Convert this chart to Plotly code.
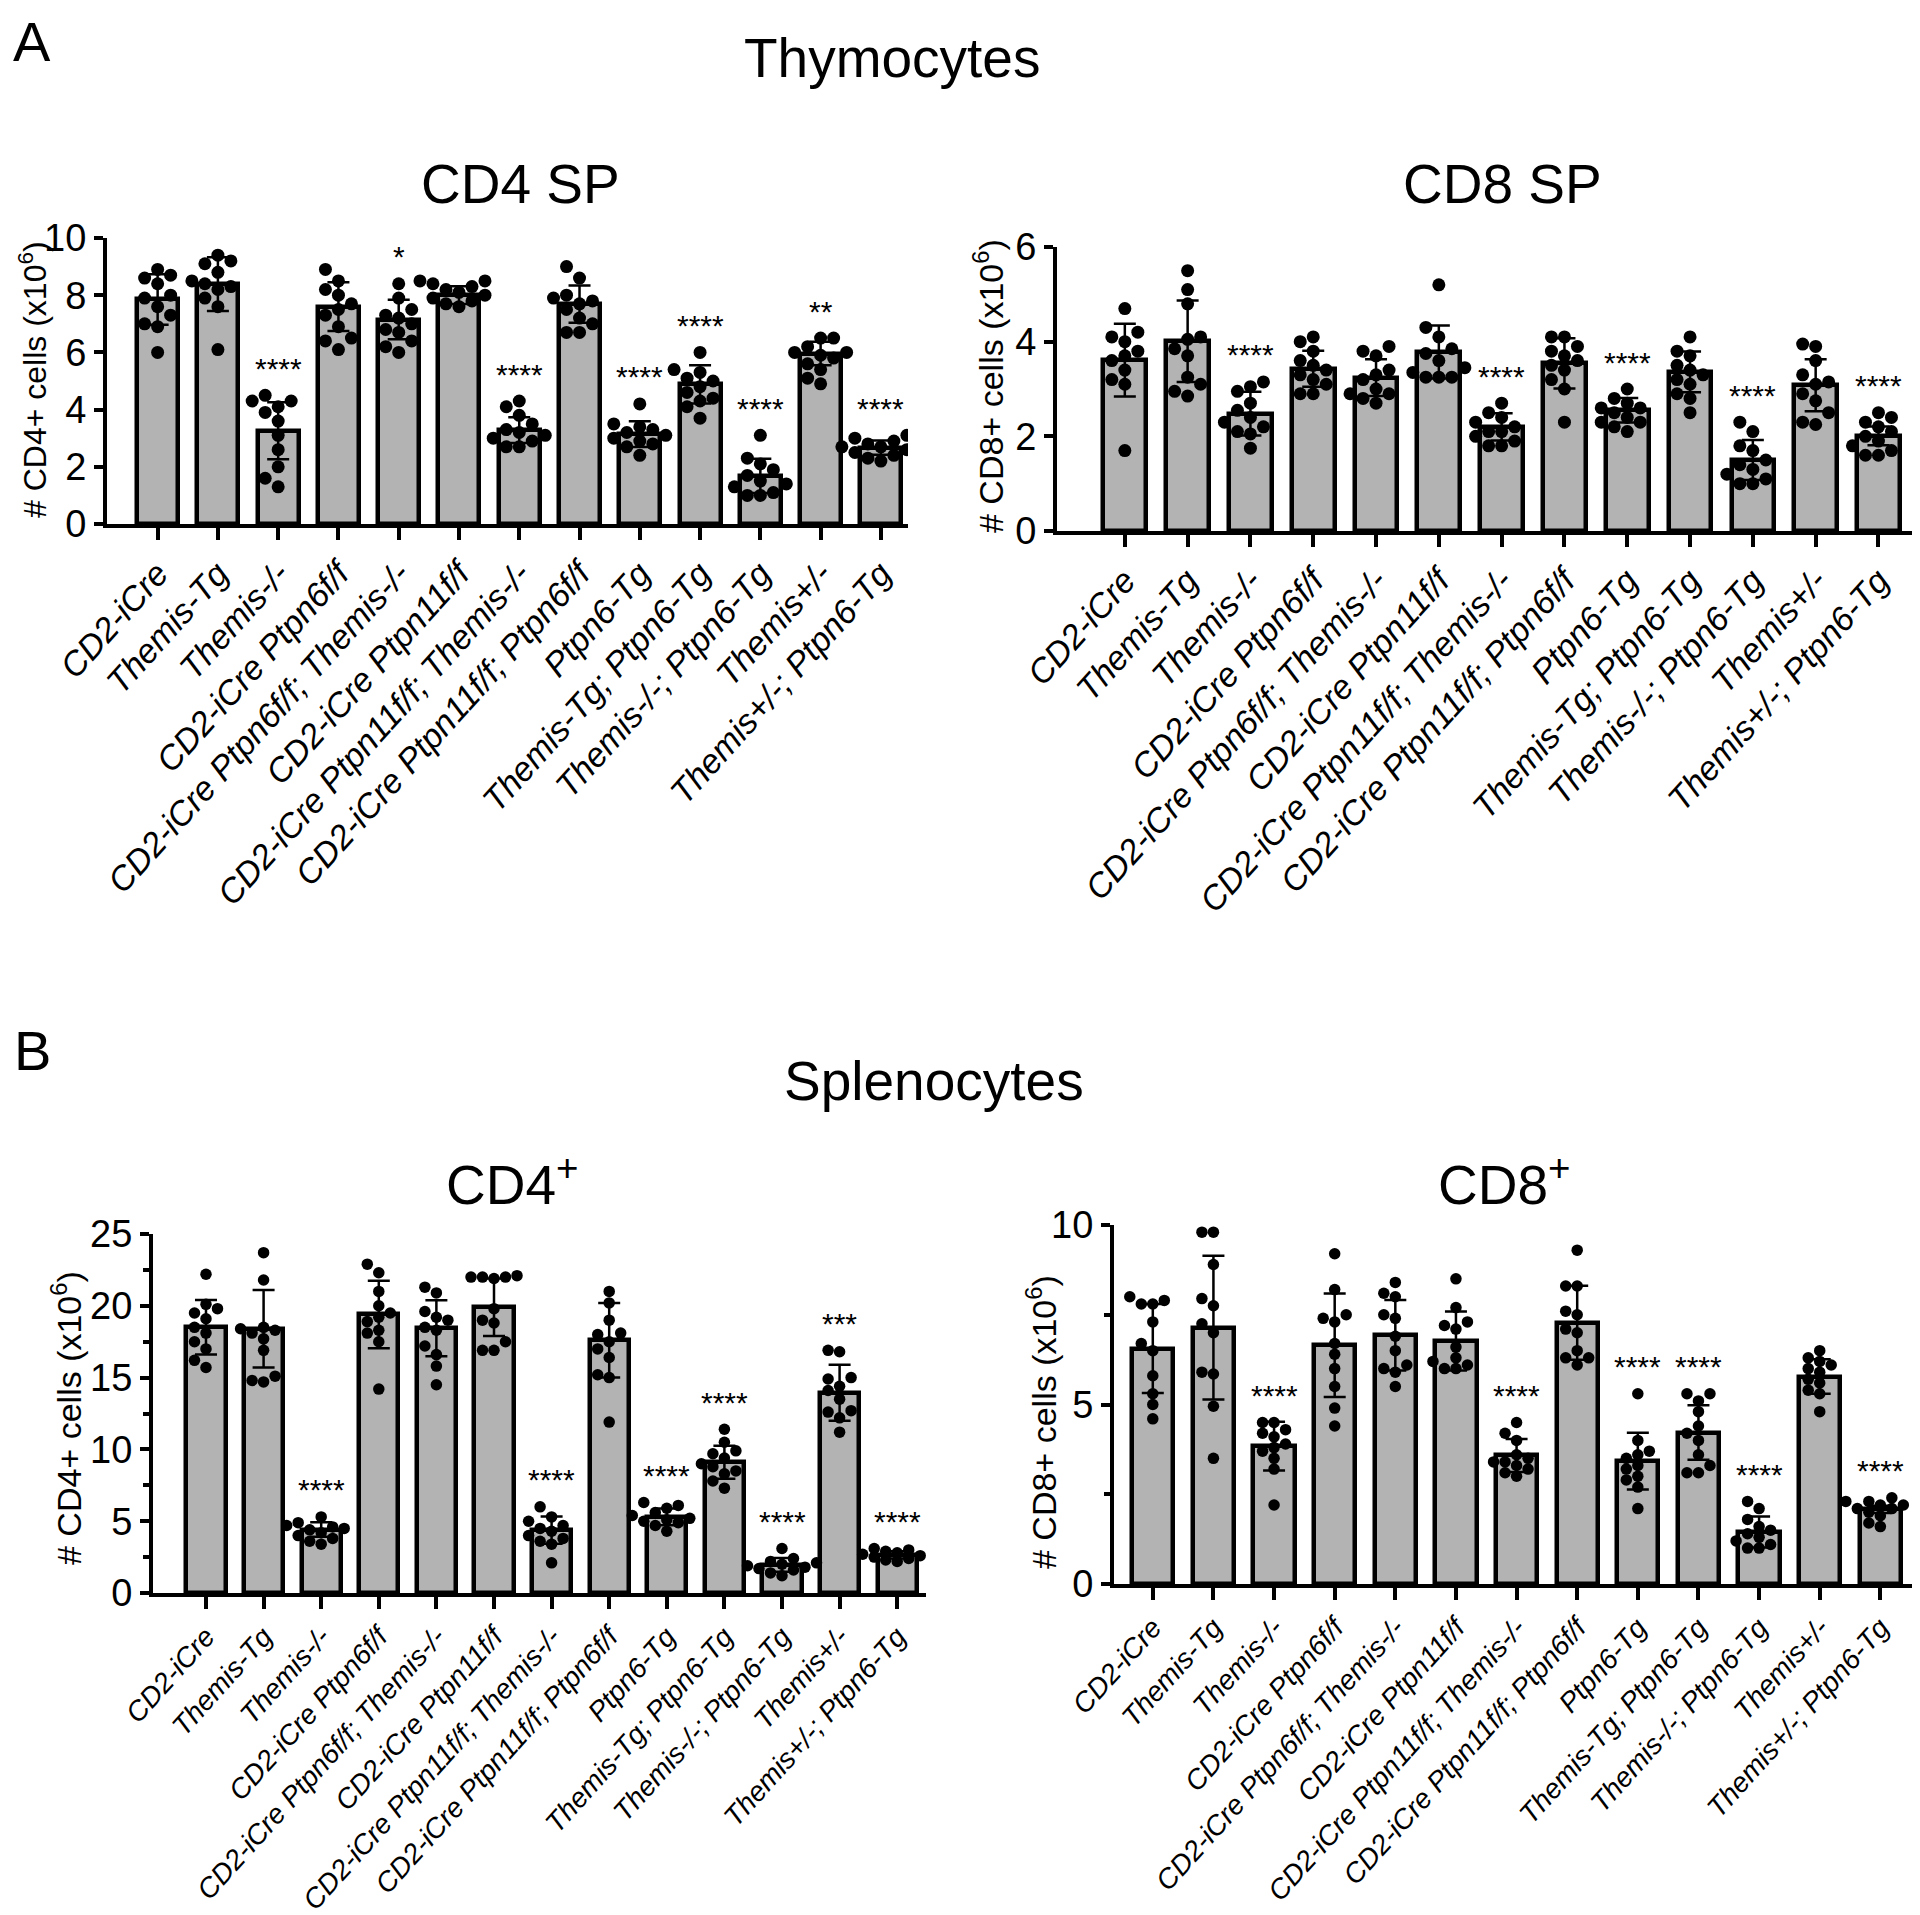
import plotly.graph_objects as go

# -------------------------
# 1) Data (read off the figure)
# -------------------------
groups = [
    "CD2-iCre", "Themis-Tg", "Themis-/-", "CD2-iCre Ptpn6f/f",
    "CD2-iCre Ptpn6f/f; Themis-/-", "CD2-iCre Ptpn11f/f",
    "CD2-iCre Ptpn11f/f; Themis-/-", "CD2-iCre Ptpn11f/f; Ptpn6f/f",
    "Ptpn6-Tg", "Themis-Tg; Ptpn6-Tg", "Themis-/-; Ptpn6-Tg",
    "Themis+/-", "Themis+/-; Ptpn6-Tg",
]

# Thymocytes, CD4 SP
thy_cd4_mean = [7.85, 8.39, 3.26, 7.60, 7.15, 8.00, 3.28, 7.69, 3.14, 4.88, 1.68, 5.96, 2.67]
thy_cd4_sd = [0.88, 0.94, 1.00, 0.85, 0.69, 0.31, 0.45, 0.65, 0.45, 0.67, 0.60, 0.41, 0.25]
thy_cd4_pts = [
    [8.9, 8.7, 8.6, 8.4, 8.0, 7.9, 7.6, 7.3, 7.0, 6.9, 6.0],
    [9.4, 9.2, 9.1, 8.8, 8.5, 8.4, 8.3, 8.2, 7.9, 7.6, 6.1],
    [4.5, 4.3, 4.3, 4.1, 3.9, 3.6, 3.1, 2.6, 2.0, 1.6, 1.3],
    [8.9, 8.5, 8.2, 8.0, 7.7, 7.5, 7.3, 6.9, 6.5, 6.4, 6.1],
    [8.4, 7.9, 7.5, 7.3, 7.2, 7.0, 6.8, 6.7, 6.4, 6.2, 6.0],
    [8.5, 8.5, 8.4, 8.3, 8.2, 8.1, 8.0, 7.9, 7.8, 7.7, 7.6],
    [4.3, 4.1, 3.8, 3.5, 3.3, 3.2, 3.1, 3.0, 2.9, 2.7, 2.7],
    [9.0, 8.6, 8.0, 7.9, 7.8, 7.7, 7.5, 7.2, 7.0, 6.7, 6.7],
    [4.2, 3.5, 3.4, 3.3, 3.2, 3.1, 3.0, 2.9, 2.8, 2.7, 2.4],
    [6.0, 5.4, 5.3, 5.1, 5.0, 4.8, 4.6, 4.4, 4.3, 4.1, 3.7],
    [3.1, 2.3, 2.1, 1.9, 1.7, 1.5, 1.4, 1.3, 1.1, 1.0, 1.0],
    [6.5, 6.5, 6.2, 6.0, 6.0, 5.9, 5.8, 5.6, 5.4, 5.1, 4.9],
    [3.1, 3.0, 2.9, 2.8, 2.7, 2.7, 2.6, 2.5, 2.4, 2.3, 2.2],
]
thy_cd4_stars = ["", "", "****", "", "*", "", "****", "", "****", "****", "****", "**", "****"]

# Thymocytes, CD8 SP
thy_cd8_mean = [3.61, 4.01, 2.48, 3.43, 3.24, 3.78, 2.20, 3.54, 2.55, 3.36, 1.50, 3.08, 2.01]
thy_cd8_sd = [0.77, 0.86, 0.46, 0.38, 0.39, 0.56, 0.29, 0.53, 0.26, 0.43, 0.42, 0.55, 0.20]
thy_cd8_pts = [
    [4.7, 4.2, 4.1, 4.0, 3.8, 3.7, 3.6, 3.4, 3.2, 3.1, 1.7],
    [5.5, 5.1, 4.8, 4.1, 4.05, 3.85, 3.7, 3.25, 3.1, 2.95, 2.85],
    [3.15, 3.05, 2.95, 2.7, 2.55, 2.4, 2.3, 2.2, 2.1, 2.05, 1.75],
    [4.1, 4.0, 3.8, 3.6, 3.5, 3.4, 3.3, 3.2, 3.1, 2.9, 2.9],
    [3.9, 3.8, 3.7, 3.4, 3.3, 3.2, 3.0, 2.9, 2.9, 2.8, 2.7],
    [5.2, 4.3, 4.1, 3.85, 3.75, 3.6, 3.45, 3.35, 3.25, 3.25, 3.25],
    [2.7, 2.5, 2.4, 2.3, 2.2, 2.1, 2.1, 2.0, 1.9, 1.8, 1.8],
    [4.1, 4.1, 3.9, 3.8, 3.7, 3.6, 3.5, 3.4, 3.2, 3.0, 2.3],
    [3.0, 2.8, 2.7, 2.6, 2.6, 2.5, 2.4, 2.3, 2.3, 2.2, 2.1],
    [4.1, 3.8, 3.7, 3.5, 3.4, 3.3, 3.2, 3.1, 2.9, 2.8, 2.5],
    [2.3, 2.1, 1.8, 1.7, 1.5, 1.4, 1.3, 1.2, 1.1, 1.0, 1.0],
    [3.95, 3.9, 3.6, 3.3, 3.15, 3.1, 2.9, 2.75, 2.5, 2.3, 2.25],
    [2.5, 2.4, 2.3, 2.2, 2.1, 2.0, 1.9, 1.8, 1.7, 1.6, 1.6],
]
thy_cd8_stars = ["", "", "****", "", "", "", "****", "", "****", "", "****", "", "****"]

# Splenocytes, CD4+
spl_cd4_mean = [18.5, 18.4, 4.42, 19.4, 18.43, 19.9, 4.38, 17.6, 5.3, 9.1, 1.96, 13.94, 2.65]
spl_cd4_sd = [1.9, 2.7, 0.5, 2.35, 1.95, 2.0, 0.95, 2.6, 0.58, 1.15, 0.48, 1.95, 0.25]
spl_cd4_pts = [
    [22.2, 20.1, 19.8, 19.5, 19.1, 18.5, 18.1, 17.5, 17.0, 16.2, 15.7],
    [23.7, 21.8, 18.5, 18.4, 18.3, 18.1, 17.7, 16.9, 15.1, 14.8, 14.7],
    [5.3, 4.9, 4.7, 4.6, 4.5, 4.4, 4.2, 4.0, 3.8, 3.6, 3.4],
    [22.9, 22.3, 21.0, 20.0, 19.5, 19.2, 18.9, 18.3, 18.1, 17.5, 14.2],
    [21.3, 20.9, 19.6, 19.2, 19.0, 18.5, 18.3, 17.2, 16.6, 15.8, 14.5],
    [22.1, 22.0, 22.0, 22.0, 21.9, 19.8, 19.0, 18.8, 17.5, 16.9, 16.9],
    [6.0, 5.3, 5.0, 4.7, 4.5, 4.3, 4.0, 3.8, 3.6, 3.4, 2.1],
    [21.0, 20.2, 19.0, 18.1, 18.0, 17.5, 17.0, 16.4, 15.2, 15.0, 11.9],
    [6.3, 6.1, 5.9, 5.6, 5.4, 5.2, 5.1, 5.0, 4.9, 4.7, 4.3],
    [11.4, 10.5, 9.9, 9.7, 9.4, 9.0, 8.8, 8.5, 8.3, 7.8, 7.3],
    [3.1, 2.4, 2.2, 2.1, 2.0, 1.9, 1.8, 1.7, 1.6, 1.4, 1.2],
    [16.9, 16.8, 15.0, 14.9, 14.4, 14.1, 13.5, 12.7, 12.6, 12.2, 11.2],
    [3.1, 3.0, 2.9, 2.8, 2.8, 2.7, 2.6, 2.5, 2.4, 2.3, 2.2],
]
spl_cd4_stars = ["", "", "****", "", "", "", "****", "", "****", "****", "****", "***", "****"]

# Splenocytes, CD8+
spl_cd8_mean = [6.56, 7.14, 3.84, 6.65, 6.93, 6.77, 3.58, 7.28, 3.42, 4.22, 1.45, 5.78, 2.08]
spl_cd8_sd = [1.24, 2.0, 0.68, 1.44, 0.98, 0.82, 0.46, 1.03, 0.79, 0.76, 0.43, 0.48, 0.10]
spl_cd8_pts = [
    [8.0, 7.9, 7.8, 7.8, 7.3, 6.7, 6.5, 5.8, 5.3, 5.0, 4.6],
    [9.8, 9.8, 8.9, 7.95, 7.75, 7.25, 7.0, 5.9, 5.85, 4.95, 3.5],
    [4.5, 4.5, 4.3, 4.2, 4.1, 3.9, 3.8, 3.7, 3.5, 3.2, 2.2],
    [9.2, 8.2, 7.5, 7.4, 7.3, 6.7, 6.4, 6.0, 5.5, 4.9, 4.4],
    [8.4, 8.1, 8.0, 7.5, 7.4, 6.9, 6.5, 6.1, 6.0, 5.9, 5.5],
    [8.5, 7.7, 7.3, 7.2, 7.1, 6.6, 6.3, 6.2, 6.1, 6.0, 6.0],
    [4.5, 4.2, 4.0, 3.6, 3.5, 3.4, 3.4, 3.3, 3.2, 3.1, 3.0],
    [9.3, 8.3, 8.3, 7.6, 7.5, 7.1, 7.0, 6.5, 6.3, 6.3, 6.1],
    [5.3, 4.0, 3.7, 3.6, 3.5, 3.3, 3.2, 3.0, 2.9, 2.7, 2.1],
    [5.3, 5.3, 5.1, 4.8, 4.4, 4.2, 4.0, 3.6, 3.3, 3.1, 3.1],
    [2.3, 2.1, 1.8, 1.6, 1.5, 1.4, 1.3, 1.2, 1.1, 1.0, 1.0],
    [6.5, 6.3, 6.2, 6.1, 6.0, 5.9, 5.7, 5.6, 5.4, 5.3, 4.8],
    [2.4, 2.3, 2.3, 2.2, 2.2, 2.1, 2.1, 2.0, 1.9, 1.7, 1.6],
]
spl_cd8_stars = ["", "", "****", "", "", "", "****", "", "****", "****", "****", "", "****"]

# -------------------------
# 2) Panel geometry (pixels in the 1920x1915 page)
# -------------------------
W, H = 1920, 1915
FONT = "Liberation Sans, Arial, Helvetica, sans-serif"
NARROW = "Liberation Sans Narrow, Arial Narrow, Liberation Sans, Arial, sans-serif"
GREY = "#b3b3b3"

panels = [
    dict(mean=thy_cd4_mean, sd=thy_cd4_sd, pts=thy_cd4_pts, stars=thy_cd4_stars,
         ymax=10, dtick=2, minor=None, xpx=(99, 900), ypx=(516, 230), xr=(-0.84, 12.45),
         ytitle="# CD4+ cells (x10<sup>6</sup>)", tpos=(25, 372), tfont=32, dot=13, catfont=34),
    dict(mean=thy_cd8_mean, sd=thy_cd8_sd, pts=thy_cd8_pts, stars=thy_cd8_stars,
         ymax=6, dtick=2, minor=None, xpx=(1049, 1905), ypx=(523, 239), xr=(-1.08, 12.55),
         ytitle="# CD8+ cells (x10<sup>6</sup>)", tpos=(980, 378), tfont=34, dot=13, catfont=34),
    dict(mean=spl_cd4_mean, sd=spl_cd4_sd, pts=spl_cd4_pts, stars=spl_cd4_stars,
         ymax=25, dtick=5, minor=2.5, xpx=(145, 918), ypx=(1585, 1226), xr=(-0.92, 12.50),
         ytitle="# CD4+ cells (x10<sup>6</sup>)", tpos=(58, 1410), tfont=34, dot=11.5, catfont=28),
    dict(mean=spl_cd8_mean, sd=spl_cd8_sd, pts=spl_cd8_pts, stars=spl_cd8_stars,
         ymax=10, dtick=5, minor=2.5, xpx=(1106, 1916), ypx=(1576, 1217), xr=(-0.64, 12.72),
         ytitle="# CD8+ cells (x10<sup>6</sup>)", tpos=(1033, 1414), tfont=34, dot=11.5, catfont=28),
]


def swarm(vals, px_unit, px_cat, diam):
    """simple deterministic beeswarm: offsets (in category units) so dots don't overlap"""
    order = sorted(range(len(vals)), key=lambda i: vals[i])
    placed = []
    offs = [0.0] * len(vals)
    step = diam * 1.0
    cands = [0.0]
    for n in range(1, 4):
        cands += [-n * step, n * step]
    for i in order:
        yi = vals[i] * px_unit
        best, best_d = cands[0], -1
        for c in cands:
            dmin = min([((c - px) ** 2 + (yi - py) ** 2) ** 0.5 for px, py in placed] or [1e9])
            if dmin >= diam * 0.92:
                best = c
                break
            if dmin > best_d:
                best, best_d = c, dmin
        placed.append((best, yi))
        offs[i] = best / px_cat
    return offs


fig = go.Figure()
layout_axes = {}
annotations = []
ticktext = [f"<i>{g}</i>" for g in groups]
xs = list(range(len(groups)))

for k, p in enumerate(panels):
    sfx = "" if k == 0 else str(k + 1)
    xref, yref = "x" + sfx, "y" + sfx
    x0, x1 = p["xpx"]
    yb, yt = p["ypx"]
    px_cat = (x1 - x0) / (p["xr"][1] - p["xr"][0])
    px_unit = (yb - yt) / p["ymax"]

    fig.add_trace(go.Bar(
        x=xs, y=p["mean"], width=0.68, xaxis=xref, yaxis=yref,
        marker=dict(color=GREY, line=dict(color="black", width=4.5)),
        showlegend=False, hoverinfo="skip",
    ))

    dx, dy = [], []
    for i, vals in enumerate(p["pts"]):
        offs = swarm(vals, px_unit, px_cat, p["dot"])
        dx += [i + o for o in offs]
        dy += vals
    fig.add_trace(go.Scatter(
        x=dx, y=dy, mode="markers", xaxis=xref, yaxis=yref,
        marker=dict(size=p["dot"], color="black", line=dict(width=0)),
        showlegend=False, hoverinfo="skip",
    ))

    # error bars (mean +/- SD) on top of the dots
    fig.add_trace(go.Scatter(
        x=xs, y=p["mean"], mode="markers", xaxis=xref, yaxis=yref,
        marker=dict(size=1, color="rgba(0,0,0,0)"),
        error_y=dict(type="data", array=p["sd"], color="black", thickness=2.5, width=11),
        showlegend=False, hoverinfo="skip",
    ))

    for i, s in enumerate(p["stars"]):
        if s:
            annotations.append(dict(
                x=i, y=max(p["pts"][i]), xref=xref, yref=yref, text=s, showarrow=False,
                yshift=27, yanchor="middle", font=dict(family=FONT, size=30, color="black"),
            ))

    annotations.append(dict(
        x=p["tpos"][0] / W, y=1 - p["tpos"][1] / H, xref="paper", yref="paper",
        text=p["ytitle"], textangle=-90, showarrow=False, xanchor="center", yanchor="middle",
        font=dict(family=FONT, size=p["tfont"], color="black"),
    ))

    layout_axes["xaxis" + sfx] = dict(
        domain=[x0 / W, x1 / W], range=list(p["xr"]), anchor=yref,
        showline=True, linecolor="black", linewidth=4, showgrid=False, zeroline=False,
        ticks="outside", ticklen=12, tickwidth=3.5, tickcolor="black",
        tickvals=xs, ticktext=ticktext, tickangle=-48,
        tickfont=dict(family=FONT, size=p["catfont"], color="black"), automargin=False,
    )
    yax = dict(
        domain=[1 - yb / H, 1 - yt / H], range=[0, p["ymax"]], anchor=xref,
        showline=True, linecolor="black", linewidth=4, showgrid=False, zeroline=False,
        ticks="outside", ticklen=9, tickwidth=3.5, tickcolor="black",
        tick0=0, dtick=p["dtick"], tickfont=dict(family=NARROW, size=38, color="black"),
        automargin=False,
    )
    if p["minor"]:
        yax["minor"] = dict(dtick=p["minor"], ticks="outside", ticklen=6, tickwidth=3.5,
                            tickcolor="black", showgrid=False)
    layout_axes["yaxis" + sfx] = yax

# -------------------------
# 3) Headings
# -------------------------
# panel letter A sits flush with the page top
annotations.append(dict(
    x=24 / W, y=1, xref="paper", yref="paper", text="A", showarrow=False,
    xanchor="center", yanchor="top", font=dict(family=FONT, size=56, color="black"),
))
headings = [
    ("Thymocytes", 884, 50, 55),
    ("CD4 SP", 512, 176, 55), ("CD8 SP", 1494, 176, 55),
    ("B", 24, 1042, 56), ("Splenocytes", 926, 1073, 55),
    ("CD4<sup>+</sup>", 504, 1173, 55), ("CD8<sup>+</sup>", 1496, 1173, 55),
]
for txt, hx, hy, fs in headings:
    annotations.append(dict(
        x=hx / W, y=1 - hy / H, xref="paper", yref="paper", text=txt, showarrow=False,
        xanchor="center", yanchor="middle", font=dict(family=FONT, size=fs, color="black"),
    ))

fig.update_layout(
    width=W, height=H, margin=dict(l=0, r=0, t=0, b=0),
    paper_bgcolor="white", plot_bgcolor="white",
    font=dict(family=FONT, color="black"),
    bargap=0, annotations=annotations, **layout_axes,
)

fig.write_html("out.html")
